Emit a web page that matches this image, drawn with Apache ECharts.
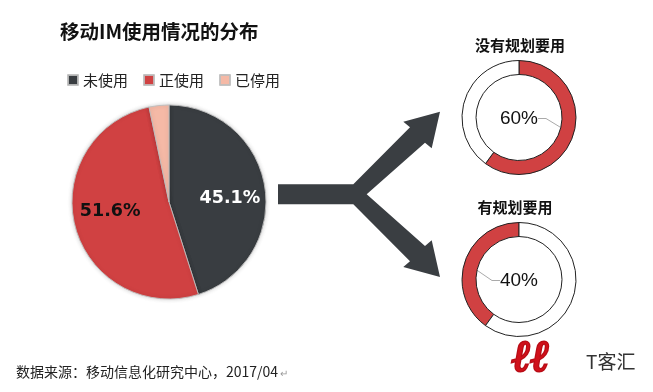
<!DOCTYPE html>
<html><head><meta charset="utf-8">
<script src="https://cdn.jsdelivr.net/npm/echarts@6/dist/echarts.min.js"></script>
<style>html,body{margin:0;padding:0;background:#fff}#c{width:653px;height:392px}</style>
</head><body><div id="c"></div>
<script>
// ---- data ----
const mainTitle = '移动IM使用情况的分布';
const usageNames = ['未使用', '正使用', '已停用'];
const usageValues = [45.1, 51.6, 3.3];
const usageColors = ['#393d41', '#d04142', '#f5b9a6'];
const planTitles = ['没有规划要用', '有规划要用'];
const planValues = [60, 40];
const sourceText = '数据来源：移动信息化研究中心，2017/04';

const CJK = '"Noto Sans CJK SC", "Microsoft YaHei", sans-serif';
const pieC = [169, 202];
const donutC = [[519, 117.5], [519, 279.5]];

const chart = echarts.init(document.getElementById('c'));

function donut(i, clockwise) {
  const v = planValues[i];
  return {
    type: 'pie',
    center: donutC[i],
    radius: [43, 57],
    startAngle: 90,
    clockwise: clockwise,
    silent: true,
    animation: false,
    itemStyle: { borderColor: '#222', borderWidth: 1 },
    labelLine: { show: true, length: 6, length2: 8, lineStyle: { color: '#aaa', width: 1 } },
    labelLayout: function () {
      return { x: donutC[i][0], y: donutC[i][1] + 1, align: 'center', verticalAlign: 'middle' };
    },
    data: [
      { value: v, name: planTitles[i], itemStyle: { color: '#d04142' },
        label: { show: true, formatter: v + '%', fontSize: 19, color: '#111',
                 fontFamily: '"Liberation Sans", Arial, sans-serif' } },
      { value: 100 - v, name: 'rest', itemStyle: { color: '#fff' },
        label: { show: false }, labelLine: { show: false } }
    ]
  };
}

const option = {
  backgroundColor: '#fff',
  animation: false,
  legend: {
    left: 62, top: 67,
    itemWidth: 10, itemHeight: 10, itemGap: 15,
    icon: 'rect',
    textStyle: { fontSize: 15, color: '#222', fontFamily: CJK, lineHeight: 16 },
    data: usageNames
  },
  series: [
    {
      type: 'pie',
      center: pieC,
      radius: 97,
      startAngle: 90,
      clockwise: true,
      silent: true,
      itemStyle: { borderColor: 'rgba(190,190,190,0.9)', borderWidth: 1,
                   shadowColor: 'rgba(0,0,0,0.18)', shadowBlur: 4 },
      label: { show: true, position: 'inside', fontSize: 17.5, fontWeight: 'bold',
               fontFamily: '"DejaVu Sans", sans-serif',
               formatter: function (p) { return p.value.toFixed(1) + '%'; } },
      labelLayout: function (p) {
        if (p.dataIndex === 0) return { dx: 10, dy: 4 };
        if (p.dataIndex === 1) return { dx: -9, dy: -4 };
        return {};
      },
      data: usageNames.map(function (n, i) {
        return {
          name: n, value: usageValues[i],
          itemStyle: { color: usageColors[i] },
          label: { show: i < 2, color: i === 0 ? '#fff' : '#111' }
        };
      })
    },
    donut(0, true),
    donut(1, false)
  ],
  graphic: [
    { type: 'text', x: 60, y: 32, style: { text: mainTitle, font: 'bold 19.5px ' + CJK, fill: '#111', textVerticalAlign: 'middle' } },
    { type: 'text', x: 520, y: 45, style: { text: planTitles[0], font: 'bold 15px ' + CJK, fill: '#111', textAlign: 'center', textVerticalAlign: 'middle' } },
    { type: 'text', x: 515, y: 207, style: { text: planTitles[1], font: 'bold 15px ' + CJK, fill: '#111', textAlign: 'center', textVerticalAlign: 'middle' } },
    { type: 'polygon', shape: { points: [
        [278, 184.3], [353.3, 184.3], [410, 127.3], [403.3, 121.7], [440, 111.7],
        [431.7, 148.3], [425, 142.7], [366.7, 194.3], [425, 246], [431.7, 240.3],
        [440, 277], [403.3, 267], [410, 261.3], [353.3, 204.3], [278, 204.3]] },
      style: { fill: '#3a3e42' } },
    { type: 'text', x: 16, y: 372, style: { text: sourceText, font: '14px ' + CJK, fill: '#222', textVerticalAlign: 'middle' } },
    { type: 'text', x: 280, y: 373, style: { text: '↵', font: '10px ' + CJK, fill: '#999', textVerticalAlign: 'middle' } },
    { type: 'text', x: 512, y: 360, style: { text: 'ℓℓ', font: 'italic bold 44px "DejaVu Serif", serif', fill: '#d0101a', stroke: '#b80c16', lineWidth: 2.5, textVerticalAlign: 'middle' } },
    { type: 'text', x: 586, y: 362, style: { text: 'T客汇', font: '19px ' + CJK, fill: '#333', textVerticalAlign: 'middle' } }
  ]
};
chart.setOption(option);
</script></body></html>
